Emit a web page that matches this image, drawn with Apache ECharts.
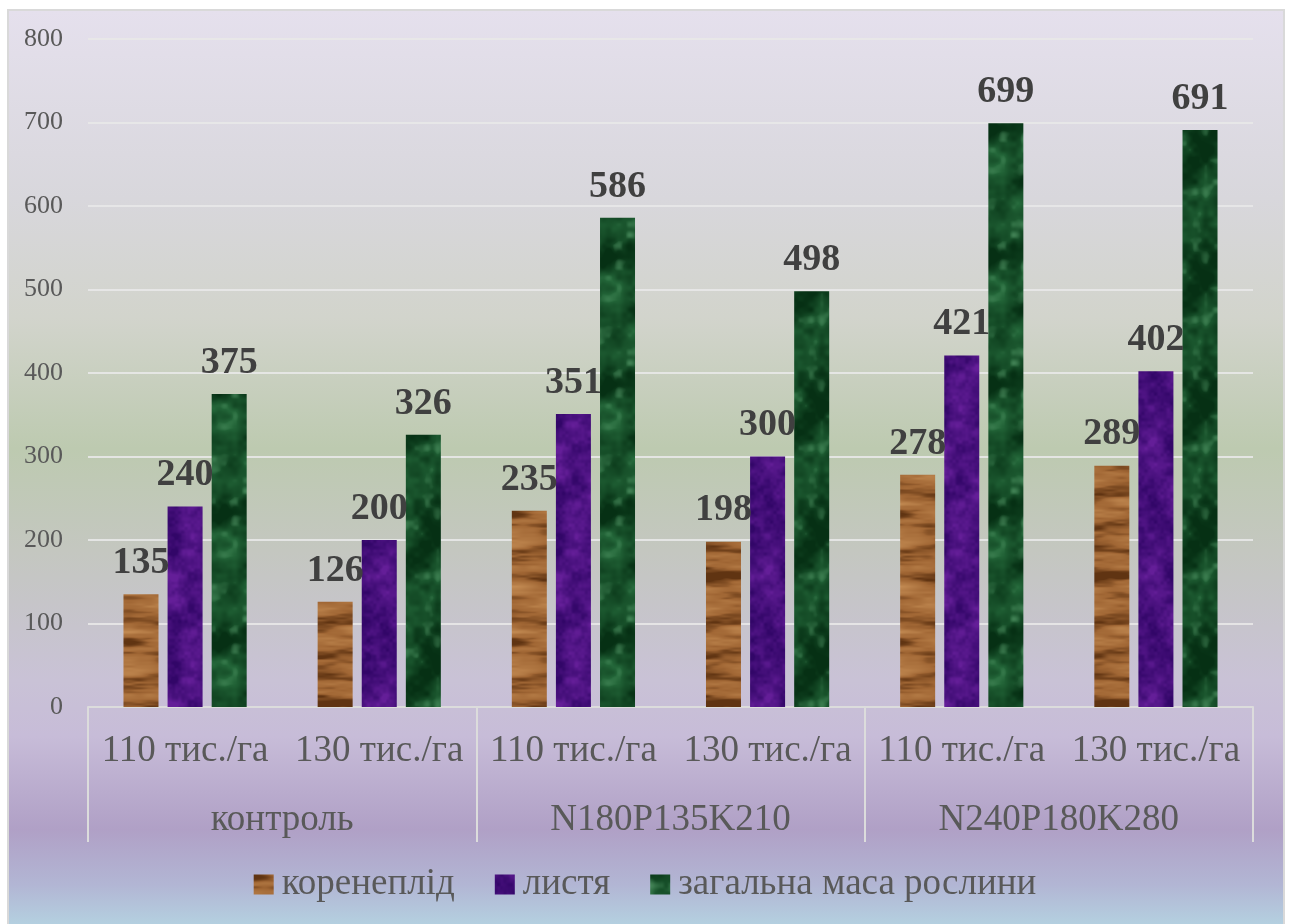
<!DOCTYPE html>
<html>
<head>
<meta charset="utf-8">
<script src="https://cdn.jsdelivr.net/npm/echarts@6/dist/echarts.min.js"></script>
<style>
  html, body { margin: 0; padding: 0; background: #ffffff; }
  #frame {
    position: absolute; left: 7px; top: 9px; width: 1274px; height: 930px;
    border: 2px solid #d9d9d9;
    background: linear-gradient(to bottom,
      #e5e0ed 0%, #d8d7dc 20%, #d2d4cc 33%, #bdcab0 47%, #c4c7c0 58%,
      #c9c2d6 72%, #c7bcd8 78%, #b0a0c6 88%, #b2b6d4 94%, #b5dbe5 100%);
  }
  #chart { position: absolute; left: 0; top: 0; width: 1290px; height: 924px; }
</style>
</head>
<body>
<div id="frame"></div>
<div id="chart"></div>
<script>
// Density levels and fertiliser backgrounds
const densities = ['110 тис./га', '130 тис./га', '110 тис./га', '130 тис./га', '110 тис./га', '130 тис./га'];
const fertilizers = ['контроль', 'N180P135K210', 'N240P180K280'];
const seriesNames = ['коренеплід', 'листя', 'загальна маса рослини'];

// Mass values per plant part
const rootCrop = [135, 126, 235, 198, 278, 289];
const leaves = [240, 200, 351, 300, 421, 402];
const wholePlant = [375, 326, 586, 498, 699, 691];

const yTicks = { min: 0, max: 800, interval: 100 };

// ---- procedural fill textures (seeded, deterministic) ----
function rng(seed) {
  return function () {
    seed = (Math.imul(seed, 1664525) + 1013904223) >>> 0;
    return seed / 4294967296;
  };
}
function valueNoise(size, cellsX, cellsY, rand) {
  const g = [];
  for (let i = 0; i < cellsX * cellsY; i++) g.push(rand());
  const v = (i, j) => g[(((j % cellsY) + cellsY) % cellsY) * cellsX + (((i % cellsX) + cellsX) % cellsX)];
  return function (x, y) {
    const fx = x / size * cellsX, fy = y / size * cellsY;
    const x0 = Math.floor(fx), y0 = Math.floor(fy);
    let tx = fx - x0, ty = fy - y0;
    tx = tx * tx * (3 - 2 * tx); ty = ty * ty * (3 - 2 * ty);
    const a = v(x0, y0), b = v(x0 + 1, y0), c = v(x0, y0 + 1), d = v(x0 + 1, y0 + 1);
    return a + (b - a) * tx + (c - a) * ty + (a - b - c + d) * tx * ty;
  };
}
function makeTexture(size, painter) {
  const c = document.createElement('canvas');
  c.width = c.height = size;
  const ctx = c.getContext('2d');
  const img = ctx.createImageData(size, size);
  for (let y = 0; y < size; y++) {
    for (let x = 0; x < size; x++) {
      const col = painter(x, y);
      const k = (y * size + x) * 4;
      img.data[k] = Math.max(0, Math.min(255, col[0]));
      img.data[k + 1] = Math.max(0, Math.min(255, col[1]));
      img.data[k + 2] = Math.max(0, Math.min(255, col[2]));
      img.data[k + 3] = 255;
    }
  }
  ctx.putImageData(img, 0, 0);
  return c;
}
const lerp = (a, b, t) => [a[0] + (b[0] - a[0]) * t, a[1] + (b[1] - a[1]) * t, a[2] + (b[2] - a[2]) * t];
const clamp01 = (t) => Math.max(0, Math.min(1, t));

// wood: horizontal grain bands
const woodTex = (function () {
  const r = rng(17);
  const S = 128;
  const n1 = valueNoise(S, 2, 12, r), n2 = valueNoise(S, 4, 30, r), n3 = valueNoise(S, 12, 64, r);
  const light = [194, 138, 82], mid = [160, 102, 52], dark = [96, 52, 18];
  return makeTexture(S, (x, y) => {
    const t = 0.6 * n1(x, y) + 0.28 * n2(x, y) + 0.12 * n3(x, y);
    return t > 0.45 ? lerp(mid, light, clamp01((t - 0.45) * 3)) : lerp(dark, mid, clamp01((t - 0.25) * 5));
  });
})();

// purple: soft mottled fill
const purpleTex = (function () {
  const r = rng(5);
  const S = 128;
  const n1 = valueNoise(S, 6, 6, r), n2 = valueNoise(S, 16, 16, r), n3 = valueNoise(S, 40, 40, r);
  const lo = [50, 6, 104], hi = [100, 30, 152];
  return makeTexture(S, (x, y) => {
    const t = 0.5 * n1(x, y) + 0.32 * n2(x, y) + 0.18 * n3(x, y);
    return lerp(lo, hi, clamp01((t - 0.25) * 1.8));
  });
})();

// green: dark cloudy marble with soft pale patches
const greenTex = (function () {
  const r = rng(91);
  const S = 128;
  const n1 = valueNoise(S, 5, 5, r), n2 = valueNoise(S, 12, 12, r), n3 = valueNoise(S, 24, 24, r);
  const lo = [6, 48, 20], hi = [36, 104, 58], light = [92, 156, 110];
  return makeTexture(S, (x, y) => {
    const t = 0.55 * n1(x, y) + 0.3 * n2(x, y) + 0.15 * n3(x, y);
    const c = lerp(lo, hi, clamp01((t - 0.25) * 2.0));
    const s = clamp01((0.7 * n2(x, y) + 0.3 * n3(x, y) - 0.6) * 2.6);
    return lerp(c, light, s * 0.6);
  });
})();

const fills = [
  { image: woodTex, repeat: 'repeat' },
  { image: purpleTex, repeat: 'repeat' },
  { image: greenTex, repeat: 'repeat' }
];
const values = [rootCrop, leaves, wholePlant];

const serif = '"Liberation Serif", "Times New Roman", "DejaVu Serif", serif';

const chart = echarts.init(document.getElementById('chart'), null, { renderer: 'canvas' });
chart.setOption({
  backgroundColor: 'transparent',
  animation: false,
  textStyle: { fontFamily: serif },
  grid: { left: 88, right: 37, top: 39, bottom: 217 },
  legend: {
    data: seriesNames,
    top: 861,
    left: 'center',
    itemWidth: 20,
    itemHeight: 20,
    itemGap: 40,
    icon: 'rect',
    textStyle: { fontFamily: serif, fontSize: 37, color: '#595959', padding: [0, 0, 0, 3] }
  },
  xAxis: [
    {
      type: 'category',
      data: densities,
      position: 'bottom',
      axisLine: { show: true, lineStyle: { color: '#dcdcdc', width: 2 } },
      axisTick: { show: false },
      axisLabel: { fontFamily: serif, fontSize: 37, color: '#595959', margin: 26, interval: 0 },
      splitLine: { show: false }
    },
    {
      type: 'category',
      data: fertilizers,
      position: 'bottom',
      axisLine: { show: false },
      axisTick: { show: true, length: 135, lineStyle: { color: '#dcdcdc', width: 2 } },
      axisLabel: { fontFamily: serif, fontSize: 37, color: '#595959', margin: 95, interval: 0 },
      splitLine: { show: false }
    }
  ],
  yAxis: {
    type: 'value',
    min: yTicks.min,
    max: yTicks.max,
    interval: yTicks.interval,
    axisLine: { show: false },
    axisTick: { show: false },
    axisLabel: { fontFamily: serif, fontSize: 26, color: '#595959', margin: 25 },
    splitLine: { show: true, lineStyle: { color: 'rgba(232,232,232,0.9)', width: 2 } }
  },
  series: seriesNames.map((name, i) => ({
    name,
    type: 'bar',
    xAxisIndex: 0,
    data: values[i],
    barWidth: 35,
    barGap: '26%',
    itemStyle: { color: fills[i] },
    label: {
      show: true,
      position: 'top',
      distance: 12,
      fontFamily: serif,
      fontSize: 38,
      fontWeight: 'bold',
      color: '#404040'
    }
  }))
});
</script>
</body>
</html>
